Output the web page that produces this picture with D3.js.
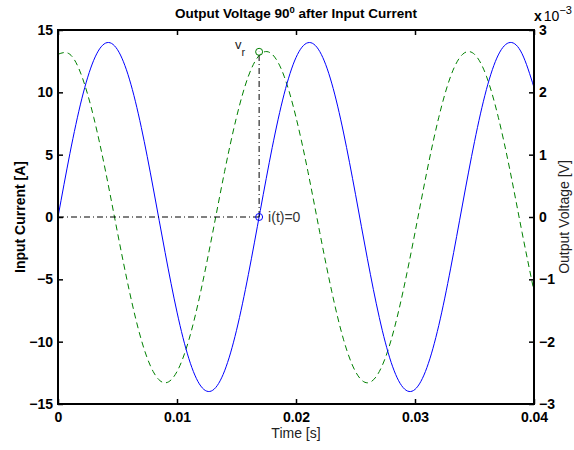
<!DOCTYPE html>
<html>
<head>
<meta charset="utf-8">
<script src="https://cdn.jsdelivr.net/npm/d3@7"></script>
<style>
  body { margin: 0; background: #fff; }
  text { font-family: "Liberation Sans", Arial, sans-serif; }
</style>
</head>
<body>
<div id="chart"></div>
<script>
// time samples in ms
var timeMs = [0,1,2,3,4,5,6,7,8,9,10,11,12,13,14,15,16,17,18,19,20,21,22,23,24,25,26,27,28,29,30,31,32,33,34,35,36,37,38,39,40];
// input current [A]
var currentA = [0,5.09,9.48,12.57,13.95,13.42,11.06,7.19,2.33,-2.84,-7.63,-11.37,-13.56,-13.90,-12.34,-9.09,-4.60,0.52,5.57,9.85,12.79,13.98,13.27,10.74,6.74,1.82,-3.35,-8.06,-11.67,-13.68,-13.83,-12.08,-8.69,-4.10,1.04,6.04,10.22,13.00,14.00,13.09,10.39];
// output voltage in units of 1e-3 V
var voltageMilli = [2.61,2.61,2.26,1.60,0.73,-0.25,-1.19,-1.97,-2.48,-2.66,-2.48,-1.97,-1.19,-0.25,0.73,1.60,2.26,2.61,2.61,2.26,1.60,0.73,-0.25,-1.19,-1.97,-2.48,-2.66,-2.48,-1.97,-1.19,-0.25,0.73,1.60,2.26,2.61,2.61,2.26,1.60,0.73,-0.25,-1.19];
// marked point: first time the current is zero again, and voltage there
var zeroTime = 0.0169;
var vrMilli = 2.65;

var xTicks = [0, 0.01, 0.02, 0.03, 0.04];
var xTickLabels = ["0", "0.01", "0.02", "0.03", "0.04"];
var leftTicks = [-15, -10, -5, 0, 5, 10, 15];
var rightTicks = [-3, -2, -1, 0, 1, 2, 3];

var width = 574, height = 450;
var margin = {top: 30, right: 40, bottom: 46, left: 58};

var svg = d3.select('#chart').append('svg').attr('width', width).attr('height', height);

var x = d3.scaleLinear().domain([0, 0.04]).range([margin.left, width - margin.right]);
var yL = d3.scaleLinear().domain([-15, 15]).range([height - margin.bottom, margin.top]);
var yR = d3.scaleLinear().domain([-3, 3]).range([height - margin.bottom, margin.top]);

var intFormat = function(d) { return d < 0 ? '\u2212' + Math.abs(d) : '' + d; };

var currentData = timeMs.map(function(t, i) { return {t: t / 1000, v: currentA[i]}; });
var voltageData = timeMs.map(function(t, i) { return {t: t / 1000, v: voltageMilli[i]}; });

svg.append('clipPath').attr('id', 'plotclip').append('rect')
  .attr('x', margin.left).attr('y', margin.top)
  .attr('width', width - margin.left - margin.right)
  .attr('height', height - margin.top - margin.bottom);

var plot = svg.append('g').attr('clip-path', 'url(#plotclip)');

var lineL = d3.line().x(function(d) { return x(d.t); }).y(function(d) { return yL(d.v); }).curve(d3.curveNatural);
var lineR = d3.line().x(function(d) { return x(d.t); }).y(function(d) { return yR(d.v); }).curve(d3.curveNatural);

plot.append('path').datum(voltageData).attr('d', lineR)
  .attr('fill', 'none').attr('stroke', '#008000').attr('stroke-width', 1)
  .attr('stroke-dasharray', '6,4');

plot.append('path').datum(currentData).attr('d', lineL)
  .attr('fill', 'none').attr('stroke', '#0000ff').attr('stroke-width', 1);

// dash-dot guides to the marked point
plot.append('line')
  .attr('x1', x(0)).attr('y1', yL(0)).attr('x2', x(zeroTime)).attr('y2', yL(0))
  .attr('stroke', '#000').attr('stroke-width', 1).attr('stroke-dasharray', '6,3,1,3');
plot.append('line')
  .attr('x1', x(zeroTime)).attr('y1', yL(0)).attr('x2', x(zeroTime)).attr('y2', yR(vrMilli))
  .attr('stroke', '#000').attr('stroke-width', 1).attr('stroke-dasharray', '6,3,1,3');

plot.append('circle').attr('cx', x(zeroTime)).attr('cy', yL(0)).attr('r', 3.5)
  .attr('fill', 'none').attr('stroke', '#0000ff').attr('stroke-width', 1);
plot.append('circle').attr('cx', x(zeroTime)).attr('cy', yR(vrMilli)).attr('r', 3.5)
  .attr('fill', 'none').attr('stroke', '#008000').attr('stroke-width', 1);

svg.append('text').attr('x', x(zeroTime) + 9).attr('y', yL(0) + 5)
  .attr('font-size', 14).attr('fill', '#333').text('i(t)=0');
var vr = svg.append('text').attr('x', x(zeroTime) - 24).attr('y', yR(vrMilli) - 3)
  .attr('font-size', 13).attr('fill', '#222');
vr.append('tspan').text('v');
vr.append('tspan').attr('dy', 7).attr('font-size', 11).text('r');

// axes
var axisFont = function(g) {
  g.selectAll('text').attr('font-size', 14).attr('font-weight', 'bold').attr('fill', '#000')
    .attr('font-family', '"Liberation Sans", Arial, sans-serif');
  g.selectAll('line').attr('stroke', '#000').attr('stroke-width', 1.5);
  g.select('.domain').remove();
};

svg.append('g').attr('transform', 'translate(0,' + (height - margin.bottom) + ')')
  .call(d3.axisBottom(x).tickValues(xTicks).tickSize(-5).tickPadding(8)
    .tickFormat(function(d, i) { return xTickLabels[i]; }))
  .call(axisFont);
svg.append('g').attr('transform', 'translate(0,' + margin.top + ')')
  .call(d3.axisTop(x).tickValues(xTicks).tickSize(-5).tickFormat(''))
  .call(axisFont);
svg.append('g').attr('transform', 'translate(' + margin.left + ',0)')
  .call(d3.axisLeft(yL).tickValues(leftTicks).tickSize(-5).tickPadding(5).tickFormat(intFormat))
  .call(axisFont);
svg.append('g').attr('transform', 'translate(' + (width - margin.right) + ',0)')
  .call(d3.axisRight(yR).tickValues(rightTicks).tickSize(-5).tickPadding(5).tickFormat(intFormat))
  .call(axisFont);

svg.append('rect').attr('x', margin.left).attr('y', margin.top)
  .attr('width', width - margin.left - margin.right)
  .attr('height', height - margin.top - margin.bottom)
  .attr('fill', 'none').attr('stroke', '#000').attr('stroke-width', 2);

// exponent label
var ex = svg.append('text').attr('x', width - margin.right).attr('y', 21).attr('font-size', 14).attr('fill', '#000');
ex.append('tspan').attr('font-weight', 'bold').text('x');
ex.append('tspan').attr('dx', 2).text('10');
ex.append('tspan').attr('dy', -7).attr('font-size', 11).text('\u22123');

// titles and labels
var title = svg.append('text').attr('x', (margin.left + width - margin.right) / 2).attr('y', 18)
  .attr('text-anchor', 'middle').attr('font-size', 13.5).attr('font-weight', 'bold').attr('fill', '#000');
title.append('tspan').text('Output Voltage 90');
title.append('tspan').attr('dy', -5).attr('font-size', 9.5).text('0');
title.append('tspan').attr('dy', 5).text(' after Input Current');

svg.append('text').attr('x', (margin.left + width - margin.right) / 2).attr('y', 438)
  .attr('text-anchor', 'middle').attr('font-size', 14).attr('fill', '#222').text('Time [s]');

svg.append('text').attr('transform', 'translate(25,' + yL(0) + ') rotate(-90)')
  .attr('text-anchor', 'middle').attr('font-size', 14).attr('font-weight', 'bold').attr('fill', '#000')
  .text('Input Current [A]');

svg.append('text').attr('transform', 'translate(569,' + yL(0) + ') rotate(-90)')
  .attr('text-anchor', 'middle').attr('font-size', 14).attr('fill', '#222')
  .text('Output Voltage [V]');
</script>
</body>
</html>
